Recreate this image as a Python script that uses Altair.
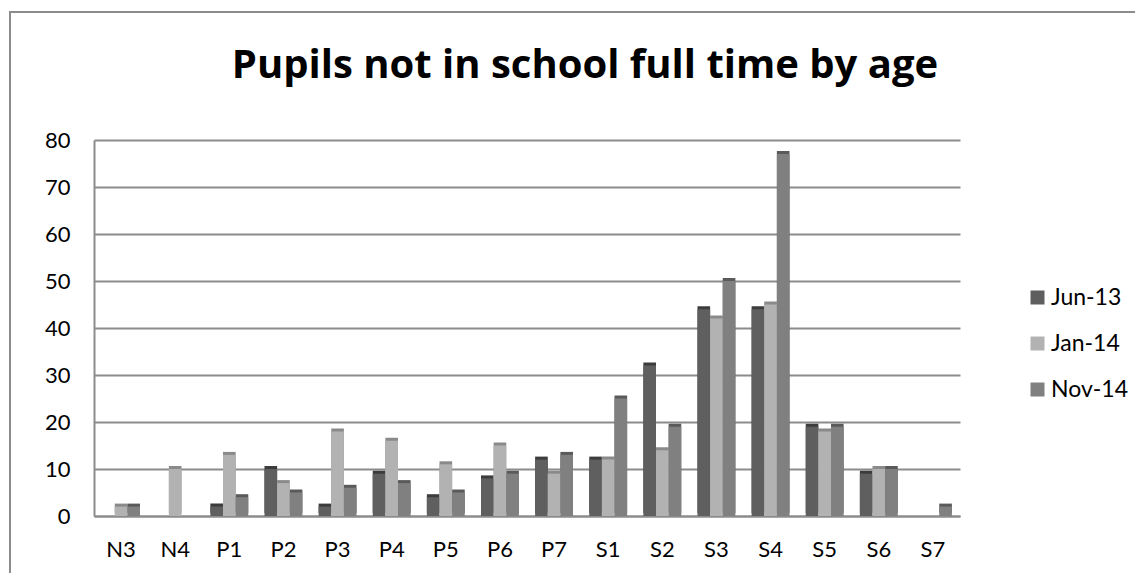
import altair as alt
import pandas as pd

cats = ["N3", "N4", "P1", "P2", "P3", "P4", "P5", "P6", "P7",
        "S1", "S2", "S3", "S4", "S5", "S6", "S7"]
series = ["Jun-13", "Jan-14", "Nov-14"]
jun13 = [0, 0, 2, 10, 2, 9, 4, 8, 12, 12, 32, 44, 44, 19, 9, 0]
jan14 = [2, 10, 13, 7, 18, 16, 11, 15, 9, 12, 14, 42, 45, 18, 10, 0]
nov14 = [2, 0, 4, 5, 6, 7, 5, 9, 13, 25, 19, 50, 77, 19, 10, 2]
title_text = "Pupils not in school full time by age"

rows = []
for s, vals in zip(series, [jun13, jan14, nov14]):
    for c, v in zip(cats, vals):
        rows.append({"age": c, "series": s, "value": v})
df = pd.DataFrame(rows)

W, H = 866, 376
PL, PT, PR, PB = 86, 132, 175, 57
FONT = "Lato"

x = alt.X("age:N", sort=cats, title=None,
          scale=alt.Scale(paddingInner=0.3, paddingOuter=0.15),
          axis=alt.Axis(labelAngle=0, labelFontSize=22, labelFont=FONT,
                        labelColor="#000000", labelPadding=23, ticks=False,
                        domainColor="#8c8c8c", domainWidth=2))
xo = alt.XOffset("series:N", sort=series, scale=alt.Scale(paddingInner=0))
y = alt.Y("value:Q", title=None,
          scale=alt.Scale(domain=[0, 80], nice=False),
          axis=alt.Axis(values=list(range(0, 81, 10)), labelFontSize=22,
                        labelFont=FONT, labelColor="#000000", labelPadding=24,
                        ticks=False, domainColor="#8c8c8c", domainWidth=2,
                        grid=True, gridColor="#8c8c8c", gridWidth=2))

shadow = alt.Chart(df).mark_bar(xOffset=4, x2Offset=4, yOffset=-3, y2Offset=-3).encode(
    x=x, xOffset=xo, y=y,
    color=alt.Color("series:N", sort=series, legend=None,
                    scale=alt.Scale(domain=series, range=["#3c3c3c", "#8a8a8a", "#5a5a5a"])),
)

bars = alt.Chart(df).mark_bar().encode(
    x=x, xOffset=xo, y=y,
    color=alt.Color("series:N", sort=series, title=None,
                    scale=alt.Scale(domain=series, range=["#5f5f5f", "#b2b2b2", "#808080"]),
                    legend=alt.Legend(orient="none", legendX=932, legendY=146,
                                      symbolType="square", symbolSize=196,
                                      symbolStrokeWidth=0, labelFontSize=23,
                                      labelFont=FONT, labelColor="#000000",
                                      rowPadding=22, labelOffset=2)),
)

one = pd.DataFrame({"a": [0]})
border = alt.Chart(one).mark_rect(
    fill=None, stroke="#8c8c8c", strokeWidth=2
).encode(
    x=alt.value(-PL + 2), x2=alt.value(W + PR + 20),
    y=alt.value(-PT + 4), y2=alt.value(H + PB + 20),
)

title = alt.Chart(one).mark_text(
    text=title_text, font="Open Sans", fontSize=40, fontWeight="bold",
    color="#000000", align="center", baseline="alphabetic"
).encode(x=alt.value(585 - 94), y=alt.value(78 - 140))

chart = alt.layer(border, shadow, bars, title).resolve_scale(color="independent").properties(
    width=W, height=H,
    autosize=alt.AutoSizeParams(type="none"),
    padding={"left": PL, "top": PT, "right": PR, "bottom": PB},
).configure_view(stroke=None)

chart.save("out.html", embed_options={"renderer": "svg", "actions": False})
